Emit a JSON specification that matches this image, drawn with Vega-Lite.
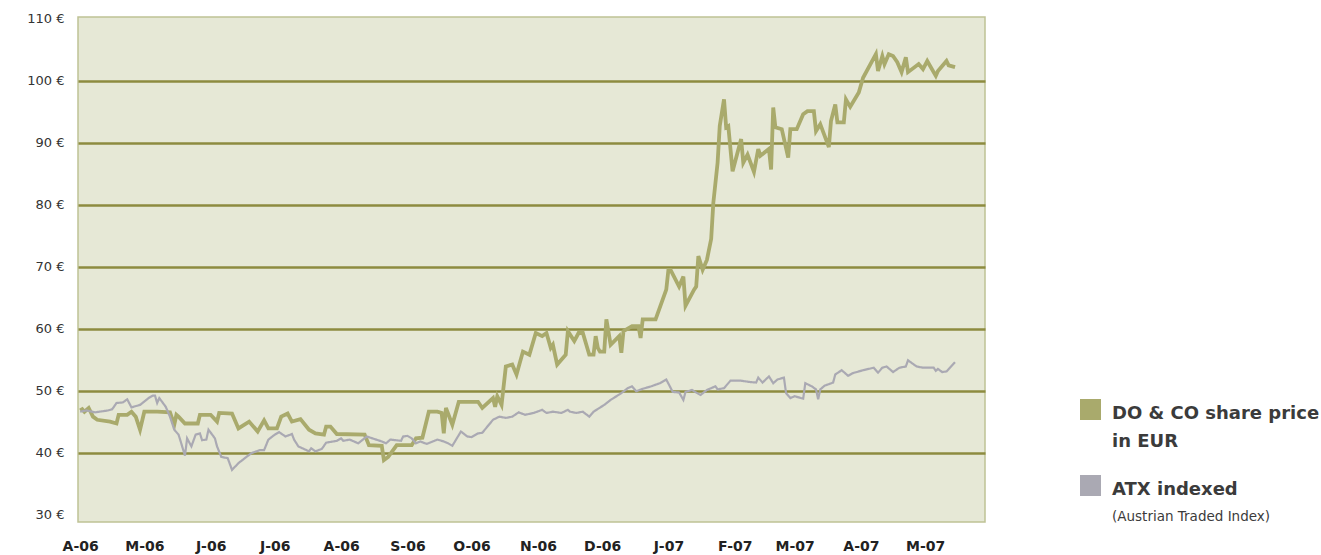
{
  "$schema": "https://vega.github.io/schema/vega-lite/v6.json",
  "width": 907,
  "height": 505,
  "autosize": "none",
  "padding": {"left": 78, "top": 17, "right": 336, "bottom": 33},
  "background": "white",
  "config": {
    "view": {"fill": "#e6e8d6", "stroke": "#bfc295", "strokeWidth": 1.5},
    "font": "DejaVu Sans",
    "style": {"guide-label": {"lineHeight": 28, "dy": 4}}
  },
  "encoding": {
    "x": {
      "field": "date",
      "type": "temporal",
      "scale": {
        "type": "utc",
        "domain": [
          {"year": 2006, "month": 3, "date": 31, "utc": true},
          {"year": 2007, "month": 5, "date": 29, "utc": true}
        ]
      },
      "axis": {
        "title": null,
        "values": [
          {"year": 2006, "month": 4, "date": 1, "utc": true},
          {"year": 2006, "month": 5, "date": 1, "utc": true},
          {"year": 2006, "month": 6, "date": 1, "utc": true},
          {"year": 2006, "month": 7, "date": 1, "utc": true},
          {"year": 2006, "month": 8, "date": 1, "utc": true},
          {"year": 2006, "month": 9, "date": 1, "utc": true},
          {"year": 2006, "month": 10, "date": 1, "utc": true},
          {"year": 2006, "month": 11, "date": 1, "utc": true},
          {"year": 2006, "month": 12, "date": 1, "utc": true},
          {"year": 2007, "month": 1, "date": 1, "utc": true},
          {"year": 2007, "month": 2, "date": 1, "utc": true},
          {"year": 2007, "month": 3, "date": 1, "utc": true},
          {"year": 2007, "month": 4, "date": 1, "utc": true},
          {"year": 2007, "month": 5, "date": 1, "utc": true}
        ],
        "labelExpr": "substring(utcFormat(datum.value, '%b'), 0, 1) + '-' + utcFormat(datum.value, '%y')",
        "domain": false,
        "ticks": false,
        "grid": false,
        "labelFont": "DejaVu Sans",
        "labelFontSize": 14,
        "labelFontWeight": "bold",
        "labelColor": "#222222",
        "labelPadding": 13,
        "labelFlush": false,
        "labelOverlap": false
      }
    },
    "y": {
      "field": "price",
      "type": "quantitative",
      "scale": {"domain": [28.8, 110.3], "nice": false, "zero": false},
      "axis": {
        "title": null,
        "values": [30, 40, 50, 60, 70, 80, 90, 100, 110],
        "labelExpr": "datum.value + ' €'",
        "domain": false,
        "ticks": false,
        "grid": true,
        "gridColor": {"condition": {"test": "datum.value == 30 || datum.value == 110", "value": "transparent"}, "value": "#8d8b3f"},
        "gridWidth": 2.5,
        "labelFont": "DejaVu Sans",
        "labelFontSize": 13,
        "labelColor": "#333333",
        "labelPadding": 14,
        "labelOffset": -4
      }
    }
  },
  "layer": [
    {
      "data": {"values": [
        {"date": "2006-04-01", "price": 46.8}, {"date": "2006-04-02", "price": 47.0}, {"date": "2006-04-03", "price": 46.6},
        {"date": "2006-04-05", "price": 47.2}, {"date": "2006-04-07", "price": 45.8}, {"date": "2006-04-09", "price": 45.3},
        {"date": "2006-04-15", "price": 45.0}, {"date": "2006-04-18", "price": 44.7}, {"date": "2006-04-19", "price": 46.1},
        {"date": "2006-04-23", "price": 46.1}, {"date": "2006-04-25", "price": 46.6}, {"date": "2006-04-27", "price": 45.8},
        {"date": "2006-04-29", "price": 43.7}, {"date": "2006-05-01", "price": 46.6}, {"date": "2006-05-07", "price": 46.6},
        {"date": "2006-05-13", "price": 46.5}, {"date": "2006-05-15", "price": 44.5}, {"date": "2006-05-16", "price": 46.1},
        {"date": "2006-05-17", "price": 45.8}, {"date": "2006-05-20", "price": 44.7}, {"date": "2006-05-26", "price": 44.7},
        {"date": "2006-05-27", "price": 46.1}, {"date": "2006-06-01", "price": 46.1}, {"date": "2006-06-04", "price": 45.0},
        {"date": "2006-06-05", "price": 46.4}, {"date": "2006-06-11", "price": 46.3}, {"date": "2006-06-14", "price": 43.9},
        {"date": "2006-06-19", "price": 45.0}, {"date": "2006-06-23", "price": 43.4}, {"date": "2006-06-26", "price": 45.2},
        {"date": "2006-06-28", "price": 43.9}, {"date": "2006-07-02", "price": 43.9}, {"date": "2006-07-04", "price": 45.8},
        {"date": "2006-07-07", "price": 46.3}, {"date": "2006-07-09", "price": 45.0}, {"date": "2006-07-13", "price": 45.4},
        {"date": "2006-07-17", "price": 43.7}, {"date": "2006-07-20", "price": 43.1}, {"date": "2006-07-24", "price": 42.9},
        {"date": "2006-07-25", "price": 44.2}, {"date": "2006-07-27", "price": 44.2}, {"date": "2006-07-30", "price": 43.0},
        {"date": "2006-08-12", "price": 42.9}, {"date": "2006-08-14", "price": 41.2}, {"date": "2006-08-20", "price": 41.1},
        {"date": "2006-08-21", "price": 38.8}, {"date": "2006-08-23", "price": 39.3}, {"date": "2006-08-27", "price": 41.2},
        {"date": "2006-09-03", "price": 41.2}, {"date": "2006-09-05", "price": 42.3}, {"date": "2006-09-08", "price": 42.4},
        {"date": "2006-09-11", "price": 46.6}, {"date": "2006-09-15", "price": 46.6}, {"date": "2006-09-17", "price": 46.4},
        {"date": "2006-09-18", "price": 43.1}, {"date": "2006-09-19", "price": 47.2}, {"date": "2006-09-22", "price": 44.5},
        {"date": "2006-09-25", "price": 48.2}, {"date": "2006-10-04", "price": 48.2}, {"date": "2006-10-06", "price": 47.2},
        {"date": "2006-10-11", "price": 48.8}, {"date": "2006-10-12", "price": 47.4}, {"date": "2006-10-13", "price": 49.1},
        {"date": "2006-10-15", "price": 47.7}, {"date": "2006-10-17", "price": 53.9}, {"date": "2006-10-20", "price": 54.2},
        {"date": "2006-10-22", "price": 52.6}, {"date": "2006-10-25", "price": 56.3}, {"date": "2006-10-28", "price": 55.8},
        {"date": "2006-10-31", "price": 59.3}, {"date": "2006-11-03", "price": 58.8}, {"date": "2006-11-05", "price": 59.3},
        {"date": "2006-11-07", "price": 56.9}, {"date": "2006-11-08", "price": 57.4}, {"date": "2006-11-10", "price": 54.2},
        {"date": "2006-11-14", "price": 55.8}, {"date": "2006-11-15", "price": 59.6}, {"date": "2006-11-18", "price": 58.0},
        {"date": "2006-11-20", "price": 59.3}, {"date": "2006-11-22", "price": 59.3}, {"date": "2006-11-25", "price": 55.8},
        {"date": "2006-11-27", "price": 55.8}, {"date": "2006-11-28", "price": 58.8}, {"date": "2006-11-29", "price": 56.9},
        {"date": "2006-11-30", "price": 56.3}, {"date": "2006-12-02", "price": 56.3}, {"date": "2006-12-03", "price": 61.5},
        {"date": "2006-12-05", "price": 57.4}, {"date": "2006-12-09", "price": 58.8}, {"date": "2006-12-10", "price": 56.1},
        {"date": "2006-12-11", "price": 59.6}, {"date": "2006-12-15", "price": 60.4}, {"date": "2006-12-18", "price": 60.4},
        {"date": "2006-12-19", "price": 58.5}, {"date": "2006-12-20", "price": 61.5}, {"date": "2006-12-26", "price": 61.5},
        {"date": "2006-12-31", "price": 66.3}, {"date": "2007-01-01", "price": 69.5}, {"date": "2007-01-02", "price": 69.5},
        {"date": "2007-01-06", "price": 66.8}, {"date": "2007-01-08", "price": 68.4}, {"date": "2007-01-09", "price": 63.7},
        {"date": "2007-01-13", "price": 66.3}, {"date": "2007-01-14", "price": 66.8}, {"date": "2007-01-15", "price": 71.7},
        {"date": "2007-01-17", "price": 69.5}, {"date": "2007-01-19", "price": 71.1}, {"date": "2007-01-21", "price": 74.5},
        {"date": "2007-01-22", "price": 80.3}, {"date": "2007-01-24", "price": 86.8}, {"date": "2007-01-25", "price": 92.7},
        {"date": "2007-01-27", "price": 97.0}, {"date": "2007-01-28", "price": 92.5}, {"date": "2007-01-29", "price": 92.7},
        {"date": "2007-01-31", "price": 85.4}, {"date": "2007-02-04", "price": 90.6}, {"date": "2007-02-05", "price": 86.8},
        {"date": "2007-02-07", "price": 88.1}, {"date": "2007-02-10", "price": 85.3}, {"date": "2007-02-12", "price": 89.0},
        {"date": "2007-02-13", "price": 87.9}, {"date": "2007-02-17", "price": 89.0}, {"date": "2007-02-18", "price": 85.7},
        {"date": "2007-02-19", "price": 95.7}, {"date": "2007-02-20", "price": 92.5}, {"date": "2007-02-23", "price": 92.2},
        {"date": "2007-02-26", "price": 87.6}, {"date": "2007-02-27", "price": 92.2}, {"date": "2007-03-02", "price": 92.2},
        {"date": "2007-03-05", "price": 94.6}, {"date": "2007-03-07", "price": 95.1}, {"date": "2007-03-10", "price": 95.1},
        {"date": "2007-03-11", "price": 91.9}, {"date": "2007-03-13", "price": 93.0}, {"date": "2007-03-17", "price": 89.3},
        {"date": "2007-03-18", "price": 93.5}, {"date": "2007-03-20", "price": 96.2}, {"date": "2007-03-21", "price": 93.3},
        {"date": "2007-03-24", "price": 93.3}, {"date": "2007-03-25", "price": 97.0}, {"date": "2007-03-27", "price": 95.8},
        {"date": "2007-03-31", "price": 98.1}, {"date": "2007-04-02", "price": 100.5}, {"date": "2007-04-08", "price": 104.3},
        {"date": "2007-04-09", "price": 101.6}, {"date": "2007-04-11", "price": 104.0}, {"date": "2007-04-12", "price": 102.7},
        {"date": "2007-04-14", "price": 104.3}, {"date": "2007-04-16", "price": 104.0}, {"date": "2007-04-18", "price": 103.0},
        {"date": "2007-04-20", "price": 101.4}, {"date": "2007-04-22", "price": 103.8}, {"date": "2007-04-23", "price": 101.4},
        {"date": "2007-04-28", "price": 102.7}, {"date": "2007-04-30", "price": 101.9}, {"date": "2007-05-02", "price": 103.2},
        {"date": "2007-05-06", "price": 100.8}, {"date": "2007-05-07", "price": 101.6}, {"date": "2007-05-11", "price": 103.2},
        {"date": "2007-05-12", "price": 102.5}, {"date": "2007-05-15", "price": 102.2}
      ]},
      "mark": {"type": "line", "strokeWidth": 3.8},
      "encoding": {
        "color": {
          "datum": "DO & CO share price in EUR",
          "type": "nominal",
          "scale": {
            "domain": ["DO & CO share price in EUR", "ATX indexed"],
            "range": ["#a9aa6c", "#aaa9b3"]
          },
          "legend": {
            "orient": "none",
            "legendX": 1002,
            "legendY": 382,
            "title": null,
            "padding": 0,
            "symbolType": "square",
            "symbolSize": 100,
            "symbolStrokeWidth": 11,
            "labelOffset": 11,
            "labelFont": "DejaVu Sans",
            "labelFontSize": 18,
            "labelFontWeight": "bold",
            "labelColor": "#3b3b3b",
            "labelLimit": 400,
            "labelExpr": "datum.label == 'DO & CO share price in EUR' ? ['DO & CO share price', 'in EUR'] : datum.label",
            "rowPadding": 7
          }
        }
      }
    },
    {
      "data": {"values": [
        {"date": "2006-04-01", "price": 46.6}, {"date": "2006-04-04", "price": 46.8}, {"date": "2006-04-08", "price": 46.5},
        {"date": "2006-04-10", "price": 46.6}, {"date": "2006-04-14", "price": 46.8}, {"date": "2006-04-16", "price": 47.0},
        {"date": "2006-04-18", "price": 48.0}, {"date": "2006-04-21", "price": 48.1}, {"date": "2006-04-23", "price": 48.6},
        {"date": "2006-04-25", "price": 47.3}, {"date": "2006-04-29", "price": 47.7}, {"date": "2006-05-03", "price": 48.8},
        {"date": "2006-05-05", "price": 49.2}, {"date": "2006-05-06", "price": 49.2}, {"date": "2006-05-07", "price": 48.0},
        {"date": "2006-05-08", "price": 48.8}, {"date": "2006-05-11", "price": 47.4}, {"date": "2006-05-13", "price": 45.8},
        {"date": "2006-05-15", "price": 43.7}, {"date": "2006-05-17", "price": 42.9}, {"date": "2006-05-18", "price": 41.8},
        {"date": "2006-05-20", "price": 39.5}, {"date": "2006-05-21", "price": 42.3}, {"date": "2006-05-23", "price": 41.0},
        {"date": "2006-05-25", "price": 42.9}, {"date": "2006-05-27", "price": 43.1}, {"date": "2006-05-28", "price": 42.0},
        {"date": "2006-05-30", "price": 42.1}, {"date": "2006-05-31", "price": 43.7}, {"date": "2006-06-03", "price": 42.3},
        {"date": "2006-06-04", "price": 41.0}, {"date": "2006-06-06", "price": 39.3}, {"date": "2006-06-09", "price": 39.1},
        {"date": "2006-06-11", "price": 37.2}, {"date": "2006-06-14", "price": 38.3}, {"date": "2006-06-17", "price": 39.1},
        {"date": "2006-06-20", "price": 39.9}, {"date": "2006-06-24", "price": 40.4}, {"date": "2006-06-26", "price": 40.4},
        {"date": "2006-06-28", "price": 42.1}, {"date": "2006-07-01", "price": 42.9}, {"date": "2006-07-03", "price": 43.3},
        {"date": "2006-07-06", "price": 42.6}, {"date": "2006-07-09", "price": 43.0}, {"date": "2006-07-10", "price": 42.1},
        {"date": "2006-07-12", "price": 41.0}, {"date": "2006-07-17", "price": 40.2}, {"date": "2006-07-18", "price": 40.7},
        {"date": "2006-07-20", "price": 40.2}, {"date": "2006-07-23", "price": 40.6}, {"date": "2006-07-25", "price": 41.6},
        {"date": "2006-07-30", "price": 41.9}, {"date": "2006-08-01", "price": 42.3}, {"date": "2006-08-02", "price": 41.9},
        {"date": "2006-08-05", "price": 42.1}, {"date": "2006-08-09", "price": 41.5}, {"date": "2006-08-13", "price": 42.6},
        {"date": "2006-08-20", "price": 41.8}, {"date": "2006-08-22", "price": 41.5}, {"date": "2006-08-24", "price": 42.1},
        {"date": "2006-08-29", "price": 41.9}, {"date": "2006-08-30", "price": 42.6}, {"date": "2006-09-01", "price": 42.7},
        {"date": "2006-09-03", "price": 42.3}, {"date": "2006-09-05", "price": 41.5}, {"date": "2006-09-07", "price": 41.8},
        {"date": "2006-09-10", "price": 41.4}, {"date": "2006-09-15", "price": 42.1}, {"date": "2006-09-18", "price": 41.8},
        {"date": "2006-09-20", "price": 41.5}, {"date": "2006-09-22", "price": 41.1}, {"date": "2006-09-26", "price": 43.4},
        {"date": "2006-09-29", "price": 42.6}, {"date": "2006-10-01", "price": 42.5}, {"date": "2006-10-04", "price": 43.1},
        {"date": "2006-10-06", "price": 43.2}, {"date": "2006-10-11", "price": 45.3}, {"date": "2006-10-14", "price": 45.8},
        {"date": "2006-10-17", "price": 45.6}, {"date": "2006-10-20", "price": 45.8}, {"date": "2006-10-23", "price": 46.5},
        {"date": "2006-10-26", "price": 46.1}, {"date": "2006-10-30", "price": 46.4}, {"date": "2006-11-03", "price": 46.9},
        {"date": "2006-11-05", "price": 46.4}, {"date": "2006-11-08", "price": 46.6}, {"date": "2006-11-12", "price": 46.4},
        {"date": "2006-11-15", "price": 46.9}, {"date": "2006-11-16", "price": 46.6}, {"date": "2006-11-19", "price": 46.4},
        {"date": "2006-11-22", "price": 46.6}, {"date": "2006-11-25", "price": 45.8}, {"date": "2006-11-27", "price": 46.6},
        {"date": "2006-12-02", "price": 47.7}, {"date": "2006-12-05", "price": 48.5}, {"date": "2006-12-10", "price": 49.6},
        {"date": "2006-12-13", "price": 50.4}, {"date": "2006-12-15", "price": 50.7}, {"date": "2006-12-17", "price": 49.9},
        {"date": "2006-12-20", "price": 50.3}, {"date": "2006-12-24", "price": 50.7}, {"date": "2006-12-28", "price": 51.2},
        {"date": "2006-12-31", "price": 51.8}, {"date": "2007-01-03", "price": 49.8}, {"date": "2007-01-06", "price": 49.7},
        {"date": "2007-01-08", "price": 48.5}, {"date": "2007-01-09", "price": 49.8}, {"date": "2007-01-12", "price": 50.1},
        {"date": "2007-01-16", "price": 49.3}, {"date": "2007-01-19", "price": 50.1}, {"date": "2007-01-23", "price": 50.7},
        {"date": "2007-01-24", "price": 50.2}, {"date": "2007-01-27", "price": 50.4}, {"date": "2007-01-30", "price": 51.6},
        {"date": "2007-02-04", "price": 51.6}, {"date": "2007-02-08", "price": 51.4}, {"date": "2007-02-11", "price": 51.3},
        {"date": "2007-02-12", "price": 52.1}, {"date": "2007-02-14", "price": 51.3}, {"date": "2007-02-17", "price": 52.3},
        {"date": "2007-02-19", "price": 51.2}, {"date": "2007-02-21", "price": 51.8}, {"date": "2007-02-24", "price": 52.1},
        {"date": "2007-02-25", "price": 49.6}, {"date": "2007-02-27", "price": 48.8}, {"date": "2007-03-01", "price": 49.1},
        {"date": "2007-03-05", "price": 48.7}, {"date": "2007-03-06", "price": 51.2}, {"date": "2007-03-09", "price": 50.7},
        {"date": "2007-03-11", "price": 50.2}, {"date": "2007-03-12", "price": 48.6}, {"date": "2007-03-13", "price": 50.2},
        {"date": "2007-03-15", "price": 50.8}, {"date": "2007-03-19", "price": 51.3}, {"date": "2007-03-20", "price": 52.6},
        {"date": "2007-03-23", "price": 53.3}, {"date": "2007-03-26", "price": 52.4}, {"date": "2007-03-28", "price": 52.8},
        {"date": "2007-03-31", "price": 53.1}, {"date": "2007-04-02", "price": 53.3}, {"date": "2007-04-07", "price": 53.7},
        {"date": "2007-04-09", "price": 52.9}, {"date": "2007-04-11", "price": 53.7}, {"date": "2007-04-13", "price": 53.9},
        {"date": "2007-04-16", "price": 53.0}, {"date": "2007-04-19", "price": 53.7}, {"date": "2007-04-22", "price": 53.9},
        {"date": "2007-04-23", "price": 54.9}, {"date": "2007-04-27", "price": 53.9}, {"date": "2007-04-30", "price": 53.7},
        {"date": "2007-05-05", "price": 53.7}, {"date": "2007-05-06", "price": 53.2}, {"date": "2007-05-07", "price": 53.5},
        {"date": "2007-05-09", "price": 53.0}, {"date": "2007-05-11", "price": 53.1}, {"date": "2007-05-15", "price": 54.6}
      ]},
      "mark": {"type": "line", "strokeWidth": 2.2},
      "encoding": {
        "color": {"datum": "ATX indexed", "type": "nominal"},
        "strokeDash": {
          "datum": "(Austrian Traded Index)",
          "type": "nominal",
          "scale": {"range": [[1, 0]]},
          "legend": {
            "orient": "none",
            "legendX": 1002,
            "legendY": 485,
            "title": null,
            "padding": 0,
            "symbolType": "square",
            "symbolSize": 100,
            "symbolStrokeWidth": 11,
            "symbolOpacity": 0,
            "labelOffset": 11,
            "labelFont": "DejaVu Sans",
            "labelFontSize": 13.5,
            "labelFontWeight": "normal",
            "labelColor": "#3b3b3b",
            "labelLimit": 400
          }
        }
      }
    }
  ]
}
